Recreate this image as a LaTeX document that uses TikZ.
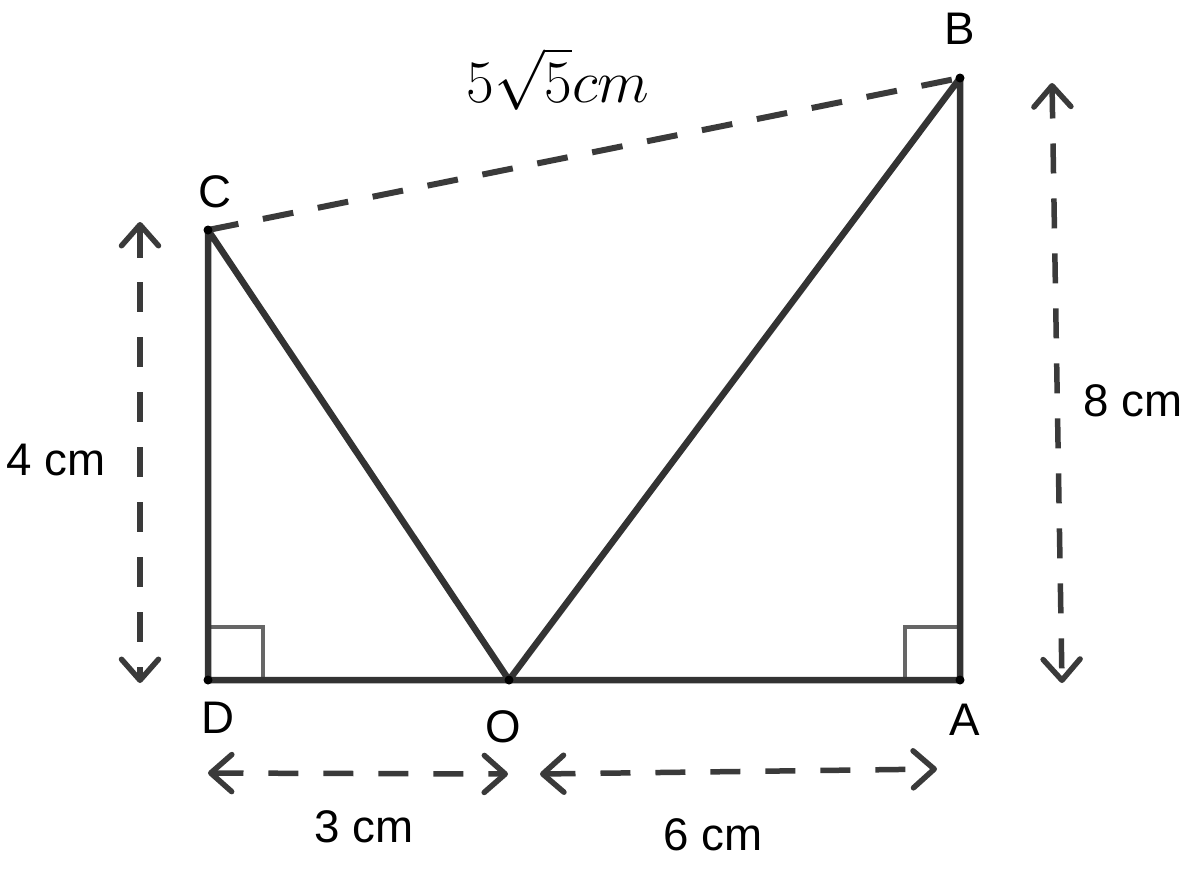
\documentclass[tikz,border=0pt]{standalone}
\usepackage{fontspec}
\usepackage{amsmath}
\usepackage{xcolor}
\usetikzlibrary{positioning}
\usetikzlibrary{calc}
\usetikzlibrary{arrows.meta}
\newfontfamily\labelfont{Liberation Sans}
\definecolor{segcol}{HTML}{333333}
\definecolor{dimcol}{HTML}{3A3A3A}
\definecolor{markcol}{HTML}{666666}
\tikzset{
  seg/.style={draw=segcol, line width=0.13cm, line join=round, line cap=round},
  dashseg/.style={draw=dimcol, line width=0.12cm, dash pattern=on 0.62cm off 0.5cm},
  dimarrow/.style={draw=dimcol, line width=0.11cm, dash pattern=on 0.6cm off 0.5cm,
    {Straight Barb[length=0.42cm, width=0.74cm, line cap=round, line join=round]}-{Straight Barb[length=0.42cm, width=0.74cm, line cap=round, line join=round]}},
  rightmark/.style={draw=markcol, line width=0.09cm},
  ptlabel/.style={inner sep=0pt, font=\labelfont\fontsize{26}{30}\selectfont},
  dimlabel/.style={inner sep=0pt, anchor=base, font=\labelfont\fontsize{26}{30}\selectfont},
}
\begin{document}
\begin{tikzpicture}[x=0.02cm, y=-0.02cm]
    \useasboundingbox (0,0) rectangle (1200,887);

    % points
    \coordinate (D) at (208,680);
    \coordinate (O) at (509,680);
    \coordinate (A) at (960,680);
    \coordinate (C) at (208,230);
    \coordinate (B) at (960,78);

    % right angles
    \draw[rightmark] ($(D)+(0,-53)$) -| ($(D)+(55,0)$);
    \draw[rightmark] ($(A)+(0,-53)$) -| ($(A)+(-55,0)$);

    \draw[seg] (C) -- (D) -- (A) -- (B) -- (O) -- cycle;
    \draw[dashseg] (C) -- (B);

    \foreach \p in {D,O,A,C,B} {
      \fill[black] (\p) circle (4.5);
    }

    \node[ptlabel, above=0.66cm of B] (labB) {B};
    \node[ptlabel, above=0.44cm of C, xshift=0.14cm] (labC) {C};
    \node[ptlabel, below=0.44cm of D, xshift=0.2cm] (labD) {D};
    \node[ptlabel, below=0.6cm of O, xshift=-0.12cm] (labO) {O};
    \node[ptlabel, below=0.48cm of A, xshift=0.1cm] (labA) {A};

    % dimensions
    \coordinate (l1) at (140,222);
    \coordinate (l2) at (140,683);
    \coordinate (r1) at (1052,83);
    \coordinate (r2) at (1062,683);
    \coordinate (b1) at (208,773);
    \coordinate (b2) at (508,774);
    \coordinate (b3) at (540,774);
    \coordinate (b4) at (937,769);
    \draw[dimarrow] (l1) -- (l2);
    \draw[dimarrow] (r1) -- (r2);
    \draw[dimarrow] (b1) -- (b2);
    \draw[dimarrow] (b3) -- (b4);

    \node[dimlabel] (len4) at (56,475) {4 cm};
    \node[dimlabel] (len8) at (1133,416) {8 cm};
    \node[dimlabel] (len3) at (364,842) {3 cm};
    \node[dimlabel] (len6) at (713,850) {6 cm};
    \node[anchor=base, inner sep=0pt, font=\Huge, scale=1.38] (lenCB) at (558,102) {$5\sqrt{5}cm$};
\end{tikzpicture}
\end{document}
